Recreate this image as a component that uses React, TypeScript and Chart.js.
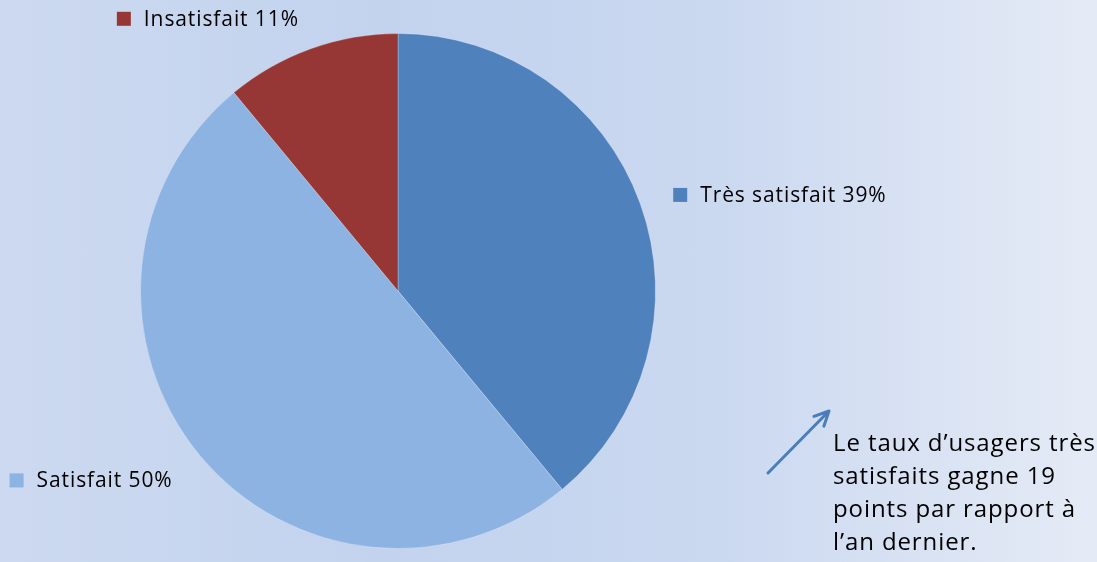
import React, { useEffect, useRef } from "react";
import { Chart, registerables } from "chart.js";

Chart.register(...registerables);

const categories = ["Très satisfait", "Satisfait", "Insatisfait"];
const values = [39, 50, 11];
const colors = ["#4f81bd", "#8db3e2", "#963735"];
const noteLines = [
  "Le taux d’usagers très",
  "satisfaits gagne 19",
  "points par rapport à",
  "l’an dernier.",
];

const FONT = "'Open Sans', 'Noto Sans', sans-serif";

const labelPlugin = {
  id: "outLabels",
  afterDraw(chart: any) {
    const ctx = chart.ctx;
    const meta = chart.getDatasetMeta(0);
    ctx.save();
    ctx.font = `21px ${FONT}`;
    (ctx as any).letterSpacing = "0.9px";
    ctx.textBaseline = "middle";
    meta.data.forEach((arc: any, i: number) => {
      const { x, y, startAngle, endAngle, outerRadius } = arc.getProps(
        ["x", "y", "startAngle", "endAngle", "outerRadius"],
        true
      );
      const mid = (startAngle + endAngle) / 2;
      const r = outerRadius + 35;
      const ax = x + Math.cos(mid) * r;
      const ay = y + Math.sin(mid) * r + 3;
      const text = `${categories[i]} ${values[i]}%`;
      const tw = ctx.measureText(text).width;
      const box = 14;
      const gap = 13;
      const total = box + gap + tw;
      const left = Math.cos(mid) < 0 ? ax - total : ax;
      ctx.fillStyle = colors[i];
      ctx.fillRect(left, ay - box / 2, box, box);
      ctx.fillStyle = "#000000";
      ctx.textAlign = "left";
      ctx.fillText(text, left + box + gap, ay + 1);
    });
    // annotation arrow
    const x1 = 768, y1 = 473, x2 = 829, y2 = 411;
    ctx.strokeStyle = "#4a7ebb";
    ctx.lineWidth = 3;
    ctx.lineCap = "round";
    ctx.beginPath();
    ctx.moveTo(x1, y1);
    ctx.lineTo(x2, y2);
    const ang = Math.atan2(y2 - y1, x2 - x1);
    const hl = 16;
    ctx.moveTo(x2, y2);
    ctx.lineTo(x2 - hl * Math.cos(ang - 0.45), y2 - hl * Math.sin(ang - 0.45));
    ctx.moveTo(x2, y2);
    ctx.lineTo(x2 - hl * Math.cos(ang + 0.45), y2 - hl * Math.sin(ang + 0.45));
    ctx.stroke();
    // note text
    ctx.fillStyle = "#000000";
    ctx.font = `24px ${FONT}`;
    (ctx as any).letterSpacing = "0.9px";
    ctx.textAlign = "left";
    noteLines.forEach((l, k) => {
      ctx.fillText(l, 833, 444 + k * 33);
    });
    ctx.restore();
  },
};

export default function App() {
  const ref = useRef<HTMLCanvasElement | null>(null);
  useEffect(() => {
    if (!ref.current) return;
    const chart = new Chart(ref.current, {
      type: "pie",
      data: {
        labels: categories,
        datasets: [
          {
            data: values,
            backgroundColor: colors,
            borderColor: "rgba(255,255,255,0.25)",
            borderWidth: 1,
          },
        ],
      },
      options: {
        animation: false,
        responsive: false,
        layout: { padding: { left: 140, right: 441, top: 33, bottom: 13 } },
        plugins: {
          legend: { display: false },
          tooltip: { enabled: false },
        },
      },
      plugins: [labelPlugin],
    });
    return () => chart.destroy();
  }, []);
  return (
    <div
      style={{
        position: "fixed",
        left: 0,
        top: 0,
        width: 1097,
        height: 562,
        background:
          "linear-gradient(to right, #ccd9f0 0%, #c3d3ee 35%, #cad8f0 65%, #e5ebf6 100%)",
      }}
    >
      <canvas ref={ref} width={1097} height={562} style={{ width: 1097, height: 562, display: "block" }} />
    </div>
  );
}
